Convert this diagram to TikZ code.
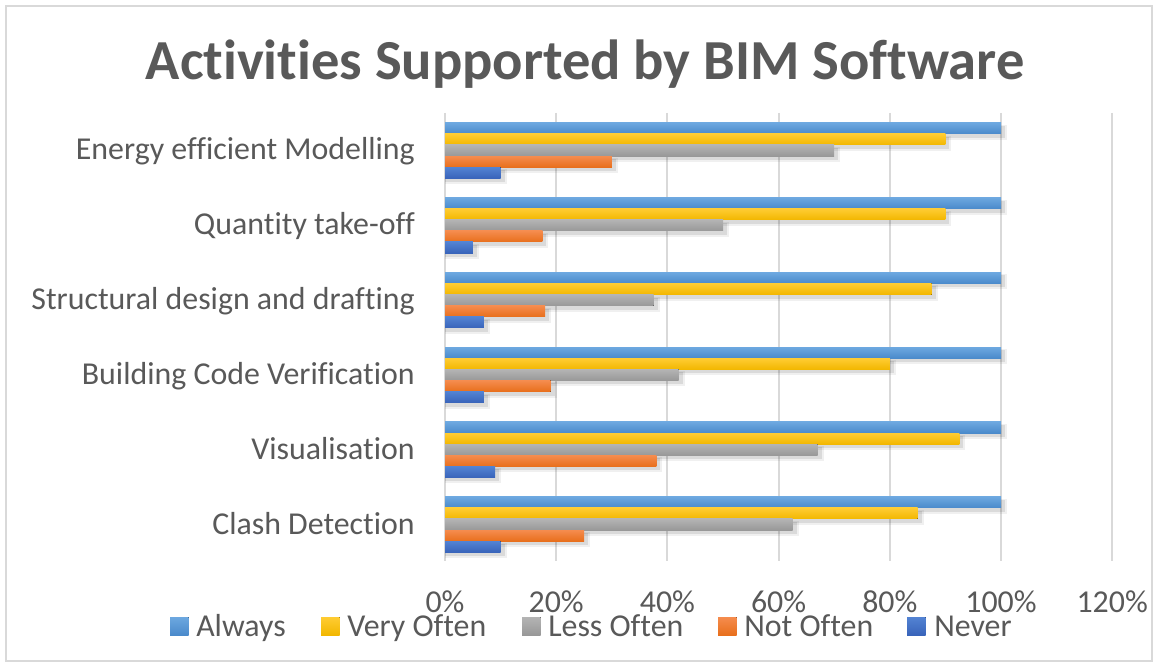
\documentclass[tikz,border=0pt]{standalone}
\usepackage{fontspec}
\setmainfont{Carlito}[Ligatures=NoCommon]
\definecolor{txt}{HTML}{595959}
\definecolor{gridc}{HTML}{D9D9D9}
\definecolor{frame}{HTML}{D9D9D9}
\definecolor{topc0}{HTML}{6DA8E0}\definecolor{botc0}{HTML}{4A8ACB}
\definecolor{topc1}{HTML}{FFCC33}\definecolor{botc1}{HTML}{F2B700}
\definecolor{topc2}{HTML}{B4B4B4}\definecolor{botc2}{HTML}{989898}
\definecolor{topc3}{HTML}{F58C4E}\definecolor{botc3}{HTML}{E86F1C}
\definecolor{topc4}{HTML}{5383D3}\definecolor{botc4}{HTML}{3964BA}
\tikzset{
  lbl/.style={text=txt,inner sep=0pt,font=\fontsize{23.9}{28}\selectfont},
  ttl/.style={text=txt,inner sep=0pt,font=\fontsize{42.4}{50}\selectfont\bfseries},
  gridline/.style={draw=gridc,line width=1.5pt},
}
\begin{document}
\begin{tikzpicture}[x=0.75pt,y=-0.75pt]
\useasboundingbox (0,0) rectangle (1158,667);
\fill[white] (0,0) rectangle (1158,667);
\draw[frame,line width=1.2pt] (6,6) rectangle (1152,661);
% title
\node[ttl,anchor=base] (title) at (585,80) {Activities Supported by BIM Software};
% grid
\foreach \k in {0,...,6}{
  \draw[gridline] ({445+111.2*\k},113) -- ({445+111.2*\k},561);
}
% bars
\foreach \vals [count=\i from 0] in {{100,90,70,30,10},{100,90,50,17.5,5},{100,87.5,37.5,18,7},{100,80,42,19,7},{100,92.5,67,38,9},{100,85,62.5,25,10}}{
  \foreach \v [count=\j from 0] in \vals {
    \pgfmathsetmacro{\yt}{150.5+74.8*\i-27.75+11.1*\j}
    \pgfmathsetmacro{\xe}{445+5.56*\v}
    \fill[black,opacity=0.06] (445,\yt+2) rectangle (\xe+6,\yt+11.1+6);
    \fill[black,opacity=0.09] (445,\yt+3) rectangle (\xe+4,\yt+11.1+4);
    \fill[top color=topc\j,bottom color=botc\j] (445,\yt) rectangle (\xe,\yt+11.1);
  }
}
% category labels
\foreach \t [count=\i from 0] in {Energy efficient Modelling,Quantity take-off,Structural design and drafting,Building Code Verification,Visualisation,Clash Detection}{
  \node[lbl,anchor=base east] (cat\i) at (415,{160+74.8*\i}) {\t};
}
% axis labels
\foreach \k [count=\i from 0] in {0,20,40,60,80,100,120}{
  \node[lbl,anchor=base] (ax\i) at ({445+111.2*\i},612) {\k\%};
}
% legend
\foreach \sx/\tx/\t [count=\j from 0] in {170/196/Always,321/347/Very Often,522/548/Less Often,718/744/Not Often,907/934/Never}{
  \fill[top color=topc\j,bottom color=botc\j] (\sx,617) rectangle (\sx+18.5,635);
  \node[lbl,anchor=base west] (leg\j) at (\tx,636) {\t};
}
\end{tikzpicture}
\end{document}
